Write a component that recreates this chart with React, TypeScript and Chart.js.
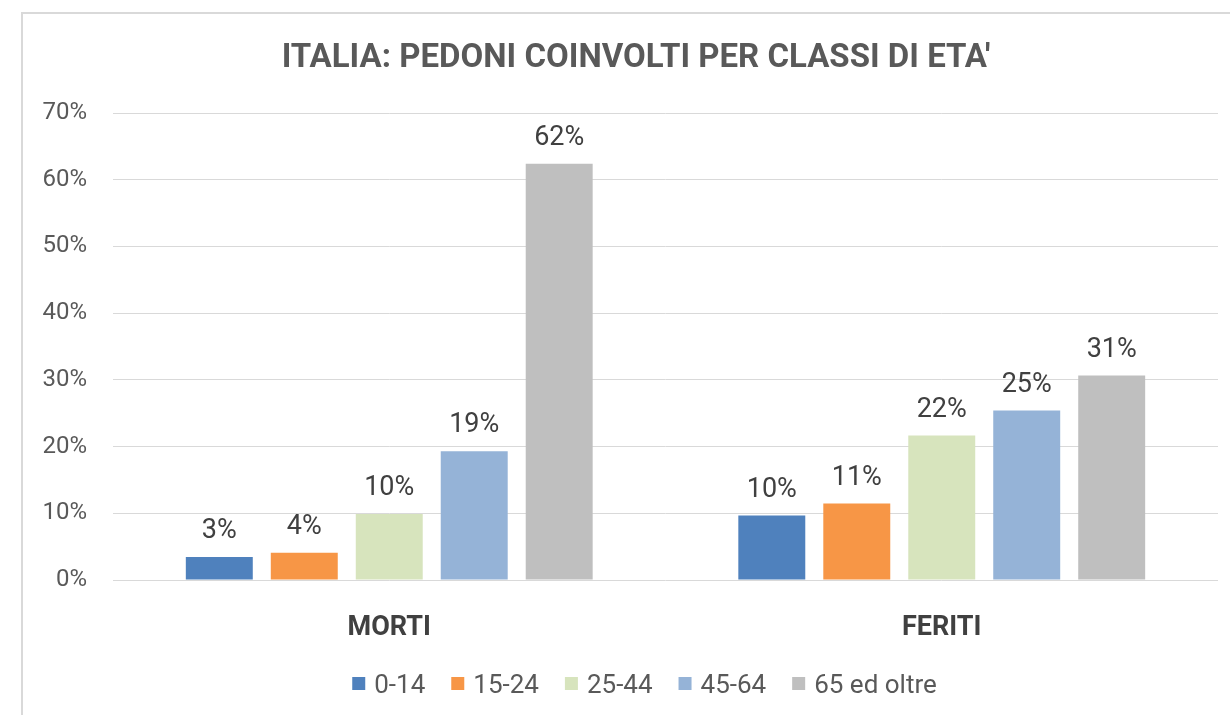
import React, { useEffect, useRef } from "react";
import { Chart, registerables } from "chart.js";

Chart.register(...registerables);

const categories = ["MORTI", "FERITI"];
const seriesNames = ["0-14", "15-24", "25-44", "45-64", "65 ed oltre"];
const values0to14 = [3.45, 9.65];
const values15to24 = [4.1, 11.45];
const values25to44 = [9.9, 21.65];
const values45to64 = [19.3, 25.4];
const values65plus = [62.4, 30.65];
const seriesColors = ["#4f81bd", "#f79646", "#d7e4bd", "#95b3d7", "#bfbfbf"];
const yMin = 0;
const yMax = 70;
const yStep = 10;
const titleText = "ITALIA: PEDONI COINVOLTI PER CLASSI DI ETA'";

const seriesValues = [values0to14, values15to24, values25to44, values45to64, values65plus];

const framePlugin = {
  id: "frame",
  beforeDraw(chart: any) {
    const ctx = chart.ctx;
    ctx.save();
    ctx.fillStyle = "#ffffff";
    ctx.fillRect(0, 0, chart.width, chart.height);
    ctx.strokeStyle = "#d9d9d9";
    ctx.lineWidth = 2;
    ctx.strokeRect(22, 13, 1400, 900);
    ctx.restore();
  },
};

const titlePlugin = {
  id: "customTitle",
  afterDraw(chart: any) {
    const ctx = chart.ctx;
    ctx.save();
    ctx.font = "bold 33px Roboto";
    ctx.fillStyle = "#595959";
    ctx.textAlign = "center";
    ctx.textBaseline = "alphabetic";
    ctx.fillText(titleText, 636, 67);
    ctx.restore();
  },
};

const dataLabelPlugin = {
  id: "dataLabels",
  afterDatasetsDraw(chart: any) {
    const ctx = chart.ctx;
    ctx.save();
    ctx.font = "27px Roboto";
    ctx.fillStyle = "#404040";
    ctx.textAlign = "center";
    ctx.textBaseline = "alphabetic";
    chart.data.datasets.forEach((ds: any, di: number) => {
      const meta = chart.getDatasetMeta(di);
      meta.data.forEach((el: any, i: number) => {
        const v = ds.data[i];
        ctx.fillText(Math.round(v) + "%", el.x, el.y - 19);
      });
    });
    ctx.restore();
  },
};

const legendPlugin = {
  id: "customLegend",
  afterDraw(chart: any) {
    const ctx = chart.ctx;
    ctx.save();
    ctx.font = "26px Roboto";
    ctx.textBaseline = "alphabetic";
    ctx.textAlign = "left";
    const box = 13;
    const gap = 9;
    const itemGap = 26;
    const widths = seriesNames.map((n) => ctx.measureText(n).width);
    const total =
      widths.reduce((a, b) => a + b + box + gap, 0) + itemGap * (seriesNames.length - 1);
    let x = 644.5 - total / 2;
    seriesNames.forEach((n, i) => {
      ctx.fillStyle = seriesColors[i];
      ctx.fillRect(x, 677, box, box);
      ctx.fillStyle = "#595959";
      ctx.fillText(n, x + box + gap, 693);
      x += box + gap + widths[i] + itemGap;
    });
    ctx.restore();
  },
};

export default function App() {
  const canvasRef = useRef<HTMLCanvasElement | null>(null);

  useEffect(() => {
    if (!canvasRef.current) return;
    const chart = new Chart(canvasRef.current, {
      type: "bar",
      data: {
        labels: categories,
        datasets: seriesNames.map((name, i) => ({
          label: name,
          data: seriesValues[i],
          backgroundColor: seriesColors[i],
          borderWidth: 0,
          categoryPercentage: 0.769,
          barPercentage: 0.788,
        })),
      },
      options: {
        animation: false,
        responsive: false,
        layout: { padding: { left: 0, top: 113, right: 12, bottom: 75 } },
        plugins: {
          legend: { display: false },
          title: { display: false },
          tooltip: { enabled: false },
        },
        scales: {
          x: {
            grid: { display: false },
            border: { display: false },
            ticks: {
              padding: 24,
              color: "#404040",
              font: { family: "Roboto", size: 27, weight: "bold" },
            },
            afterFit: (scale: any) => {
              scale.height = 60;
            },
          },
          y: {
            min: yMin,
            max: yMax,
            grid: { color: "#d9d9d9", lineWidth: 1, drawTicks: false },
            border: { display: false },
            ticks: {
              stepSize: yStep,
              padding: 26,
              color: "#595959",
              font: { family: "Roboto", size: 24 },
              callback: (v: any) => v + "%",
            },
            afterFit: (scale: any) => {
              scale.width = 113;
            },
          },
        },
      },
      plugins: [framePlugin, titlePlugin, dataLabelPlugin, legendPlugin],
    });
    return () => chart.destroy();
  }, []);

  return (
    <div
      style={{
        position: "fixed",
        left: 0,
        top: 0,
        width: 1230,
        height: 715,
        overflow: "hidden",
        background: "#ffffff",
      }}
    >
      <canvas ref={canvasRef} width={1230} height={715} style={{ display: "block" }} />
    </div>
  );
}
